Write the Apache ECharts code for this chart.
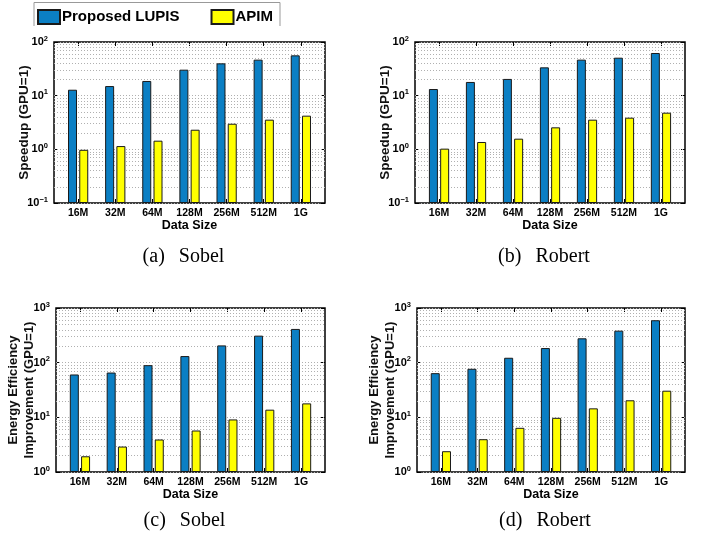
<!DOCTYPE html>
<html><head><meta charset="utf-8">
<script src="https://cdn.jsdelivr.net/npm/echarts@6/dist/echarts.min.js"></script>
<style>html,body{margin:0;padding:0;background:#fff}#c{width:703px;height:539px}</style>
</head><body><div id="c"></div>
<script>
const categories = ['16M', '32M', '64M', '128M', '256M', '512M', '1G'];
const seriesNames = ['Proposed LUPIS', 'APIM'];
const sobelSpeedupLUPIS = [12.9, 15.1, 18.8, 30.5, 40, 46.9, 56.4];
const sobelSpeedupAPIM = [0.98, 1.15, 1.45, 2.32, 3.0, 3.57, 4.24];
const robertSpeedupLUPIS = [13.3, 18.0, 20.5, 33.7, 46.9, 51, 62.4];
const robertSpeedupAPIM = [1.03, 1.37, 1.58, 2.57, 3.57, 3.89, 4.82];
const sobelEnergyLUPIS = [60.8, 66, 90, 132, 207, 312, 414];
const sobelEnergyAPIM = [1.94, 2.92, 3.93, 5.74, 9.15, 13.8, 18.0];
const robertEnergyLUPIS = [64.3, 77.3, 123, 185, 279, 385, 597];
const robertEnergyAPIM = [2.40, 3.98, 6.43, 9.8, 14.6, 20.5, 30.7];
const speedupRange = [0.1, 100];
const energyRange = [1, 1000];
const captions = ['(a)  \u2009Sobel', '(b)  \u2009Robert', '(c)  \u2009Sobel', '(d)  \u2009Robert'];
const speedupLabel = 'Speedup (GPU=1)';
const energyLabel = 'Energy Efficiency\nImprovement (GPU=1)';
const xLabel = 'Data Size';

const SANS = 'Liberation Sans, Arial, sans-serif';
const SERIF = 'Liberation Serif, Times New Roman, serif';
const BLUE = '#0b7fc4';
const YELLOW = '#ffff00';

const panels = [
  {grid:{left:54, top:42, width:271, height:161}, range:speedupRange, ylab:speedupLabel, nameGap:22, vals:[sobelSpeedupLUPIS, sobelSpeedupAPIM], cap:captions[0], capTop:247},
  {grid:{left:415, top:42, width:270, height:161}, range:speedupRange, ylab:speedupLabel, nameGap:22, vals:[robertSpeedupLUPIS, robertSpeedupAPIM], cap:captions[1], capTop:247},
  {grid:{left:56, top:308, width:269, height:164}, range:energyRange, ylab:energyLabel, nameGap:19, vals:[sobelEnergyLUPIS, sobelEnergyAPIM], cap:captions[2], capTop:511},
  {grid:{left:417, top:308, width:268, height:164}, range:energyRange, ylab:energyLabel, nameGap:19, vals:[robertEnergyLUPIS, robertEnergyAPIM], cap:captions[3], capTop:511}
];

function minorGrid(range) {
  const out = [];
  for (let d = range[0]; d < range[1] * 0.999; d *= 10) {
    for (let k = 2; k <= 9; k++) out.push(+(d * k).toPrecision(6));
    if (d > range[0] * 1.001) out.push(d);
  }
  return out;
}
function supLabel(v) {
  const e = Math.round(Math.log10(v));
  return '{b|10}{s|' + (e < 0 ? '\u2212' + (-e) : e) + '}';
}
const tickPos = categories.map((c, i) => i + 1);
const gridLine = {type: [1, 2], color: '#b0b0b0', width: 1};

const option = {
  animation: false,
  backgroundColor: '#fff',
  legend: {
    data: seriesNames, left: 37, top: 9, itemWidth: 22, itemHeight: 14, itemGap: 31,
    icon: 'rect', padding: 0,
    textStyle: {fontFamily: SANS, fontWeight: 'bold', fontSize: 15, color: '#000', padding: [0, 0, 0, -3]}
  },
  graphic: [{type: 'polyline', shape: {points: [[34, 26], [34, 2.5], [280, 2.5], [280, 26]]}, style: {stroke: '#999', fill: null, lineWidth: 1}}],
  title: [], grid: [], xAxis: [], yAxis: [], series: []
};

panels.forEach((p, i) => {
  option.grid.push(Object.assign({show: true, borderColor: '#000', borderWidth: 1.5, backgroundColor: 'transparent'}, p.grid));
  const cx = p.grid.left + p.grid.width / 2 - 6;
  option.title.push({text: p.cap, left: cx, top: p.capTop, textAlign: 'center', padding: 0,
    textStyle: {fontFamily: SERIF, fontWeight: 'normal', fontSize: 20, color: '#000'}});
  const xBase = {type: 'value', gridIndex: i, min: 0.35, max: 7.65, splitLine: {show: false}, axisLine: {show: false}};
  option.xAxis.push(Object.assign({}, xBase, {
    position: 'bottom', name: xLabel, nameLocation: 'middle', nameGap: 16, nameMoveOverlap: false,
    nameTextStyle: {fontFamily: SANS, fontWeight: 'bold', fontSize: 12.5, color: '#000'},
    axisTick: {show: true, inside: true, length: 4, customValues: tickPos, lineStyle: {color: '#000'}},
    axisLabel: {show: true, customValues: tickPos, margin: 5, formatter: v => categories[Math.round(v) - 1],
      fontFamily: SANS, fontWeight: 'bold', fontSize: 10.5, color: '#000'}
  }));
  option.xAxis.push(Object.assign({}, xBase, {
    position: 'top',
    axisTick: {show: true, inside: true, length: 4, customValues: tickPos, lineStyle: {color: '#000'}},
    axisLabel: {show: false, customValues: tickPos}
  }));
  const yBase = {type: 'log', logBase: 10, gridIndex: i, min: p.range[0], max: p.range[1], startValue: p.range[0], axisLine: {show: false}};
  option.yAxis.push(Object.assign({}, yBase, {
    position: 'left', name: p.ylab, nameLocation: 'middle', nameGap: p.nameGap, nameRotate: 90, nameMoveOverlap: false,
    nameTextStyle: {fontFamily: SANS, fontWeight: 'bold', fontSize: i < 2 ? 13.5 : 13, color: '#111', lineHeight: 16},
    splitLine: {show: true, lineStyle: gridLine},
    axisTick: {show: true, inside: true, length: 4, lineStyle: {color: '#000'}},
    axisLabel: {show: true, margin: 6, formatter: supLabel,
      rich: {b: {fontFamily: SANS, fontWeight: 'bold', fontSize: 11, color: '#000', lineHeight: 15},
             s: {fontFamily: SANS, fontWeight: 'bold', fontSize: 7.5, color: '#000', verticalAlign: 'top', lineHeight: 15}}}
  }));
  option.yAxis.push(Object.assign({}, yBase, {
    position: 'right', splitLine: {show: false},
    axisTick: {show: true, inside: true, length: 4, lineStyle: {color: '#000'}},
    axisLabel: {show: false}
  }));
  p.vals.forEach((vals, k) => {
    const s = {
      type: 'bar', name: seriesNames[k], xAxisIndex: 2 * i, yAxisIndex: 2 * i,
      data: vals.map((v, j) => [j + 1, v]), barWidth: 9, barGap: '25%', z: 3,
      itemStyle: {color: k === 0 ? BLUE : YELLOW, borderColor: '#1a1a1a', borderWidth: 1}
    };
    if (k === 0) {
      s.markLine = {silent: true, symbol: 'none', z: 1, animation: false, label: {show: false},
        lineStyle: gridLine, emphasis: {disabled: true},
        data: minorGrid(p.range).map(v => ({yAxis: v}))};
    }
    option.series.push(s);
  });
});

const chart = echarts.init(document.getElementById('c'), null, {renderer: 'canvas'});
chart.setOption(option);
</script>
</body></html>
